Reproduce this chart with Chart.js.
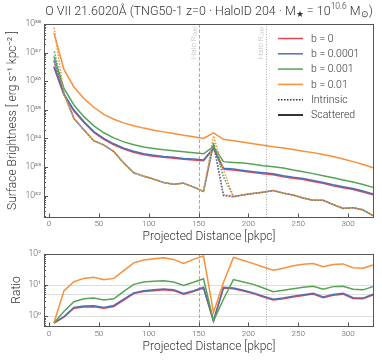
<!DOCTYPE html>
<html>
<head>
<meta charset="utf-8">
<script src="https://cdn.jsdelivr.net/npm/chart.js@4.4.1/dist/chart.umd.min.js"></script>
<style>
  html, body { margin: 0; padding: 0; background: #fff; }
  .panel { position: absolute; left: 0; width: 382px; }
</style>
</head>
<body>
<div class="panel" style="top:0;height:245px"><canvas id="sbChart"></canvas></div>
<div class="panel" style="top:245px;height:115px"><canvas id="ratioChart"></canvas></div>
<script>
const RADII = [5, 15, 25, 35, 45, 55, 65, 75, 85, 95, 105, 115, 125, 135, 145, 155,
    165, 175, 185, 195, 205, 215, 225, 235, 245, 255, 265, 275, 285, 295, 305, 315, 325];

const B_LABELS = ['b = 0', 'b = 0.0001', 'b = 0.001', 'b = 0.01'];
const B_COLORS = ['#e5464e', '#4a72b4', '#55a454', '#f7903a'];

// scattered surface brightness [erg s^-1 kpc^-2]
const SCAT_B0 = [3.1e36, 3.35e35, 9.1e34, 3.6e34, 1.62e34, 9.3e33, 6.0e33, 4.3e33, 3.3e33, 2.7e33, 2.4e33,
    2.2e33, 2.05e33, 1.86e33, 1.77e33, 1.66e33, 4.4e33, 8.4e32, 7.9e32, 7.1e32, 6.4e32, 5.8e32, 5.4e32,
    4.6e32, 4.1e32, 3.7e32, 3.15e32, 2.7e32, 2.2e32, 1.9e32, 1.65e32, 1.35e32, 1.07e32];
const SCAT_B1 = [3.3e36, 3.6e35, 9.8e34, 3.9e34, 1.74e34, 1.0e34, 6.5e33, 4.6e33, 3.55e33, 2.9e33, 2.6e33,
    2.35e33, 2.2e33, 2.0e33, 1.9e33, 1.78e33, 4.6e33, 9.1e32, 8.5e32, 7.6e32, 6.9e32, 6.3e32, 5.8e32,
    5.0e32, 4.4e32, 4.0e32, 3.4e32, 2.9e32, 2.4e32, 2.05e32, 1.78e32, 1.45e32, 1.15e32];
const SCAT_B2 = [7.4e36, 5.6e35, 1.48e35, 5.8e34, 2.75e34, 1.58e34, 1.05e34, 7.6e33, 6.0e33, 5.0e33, 4.5e33,
    4.0e33, 3.7e33, 3.4e33, 3.16e33, 2.9e33, 5.2e33, 1.55e33, 1.45e33, 1.38e33, 1.26e33, 1.12e33, 1.02e33,
    9.3e32, 7.9e32, 6.9e32, 5.9e32, 5.0e32, 4.2e32, 3.55e32, 3.0e32, 2.45e32, 1.95e32];
const SCAT_B3 = [4.8e37, 2.6e36, 6.3e35, 2.5e35, 1.23e35, 6.9e34, 4.7e34, 3.5e34, 2.8e34, 2.3e34, 1.95e34,
    1.7e34, 1.48e34, 1.29e34, 1.15e34, 1.0e34, 1.58e34, 9.3e33, 8.3e33, 7.4e33, 6.5e33, 5.8e33, 5.1e33,
    4.6e33, 4.1e33, 3.6e33, 3.2e33, 2.75e33, 2.35e33, 1.9e33, 1.55e33, 1.23e33, 9.5e32];

// intrinsic surface brightness
const INTR_B0 = [5.0e36, 3.8e35, 5.0e34, 2.0e34, 8.3e33, 5.9e33, 3.5e33, 1.38e33, 6.3e32, 4.8e32, 3.8e32,
    2.9e32, 2.5e32, 2.75e32, 2.0e32, 1.41e32, 6.2e33, 1.0e32, 9.3e31, 1.07e32, 1.2e32, 1.32e32, 1.51e32,
    1.23e32, 1.05e32, 8.3e31, 6.9e31, 6.9e31, 4.9e31, 3.6e31, 3.8e31, 3.2e31, 2.0e31];
const INTR_B1 = [5.5e36, 3.8e35, 5.0e34, 2.0e34, 8.3e33, 5.9e33, 3.5e33, 1.38e33, 6.3e32, 4.8e32, 3.8e32,
    2.9e32, 2.5e32, 2.75e32, 2.0e32, 1.41e32, 6.5e33, 1.07e32, 9.3e31, 1.07e32, 1.2e32, 1.32e32, 1.51e32,
    1.23e32, 1.05e32, 8.3e31, 6.9e31, 6.9e31, 4.9e31, 3.6e31, 3.8e31, 3.2e31, 2.0e31];
const INTR_B2 = [1.23e37, 3.8e35, 5.0e34, 2.0e34, 8.3e33, 5.9e33, 3.5e33, 1.38e33, 6.3e32, 4.8e32, 3.8e32,
    2.9e32, 2.5e32, 2.75e32, 2.0e32, 1.41e32, 7.4e33, 4.5e32, 9.3e31, 1.07e32, 1.2e32, 1.32e32, 1.51e32,
    1.23e32, 1.05e32, 8.3e31, 6.9e31, 6.9e31, 4.9e31, 3.6e31, 3.8e31, 3.2e31, 2.0e31];
const INTR_B3 = [7.9e37, 3.8e35, 5.0e34, 2.0e34, 8.3e33, 5.9e33, 3.5e33, 1.38e33, 6.3e32, 4.8e32, 3.8e32,
    2.9e32, 2.5e32, 2.75e32, 2.0e32, 1.41e32, 1.23e34, 7.9e32, 9.3e31, 1.07e32, 1.2e32, 1.32e32, 1.51e32,
    1.23e32, 1.05e32, 8.3e31, 6.9e31, 6.9e31, 4.9e31, 3.6e31, 3.8e31, 3.2e31, 2.0e31];

// scattered / intrinsic
const RATIO_B0 = [0.60, 0.92, 1.8, 1.97, 2.0, 1.8, 2.05, 3.3, 5.3, 6.2, 6.6, 7.0, 6.6, 5.1, 6.2, 8.0,
    0.68, 8.0, 7.6, 6.4, 5.3, 4.1, 3.3, 3.6, 4.1, 4.6, 5.1, 3.9, 4.7, 5.1, 3.7, 3.6, 4.8];
const RATIO_B1 = [0.61, 0.97, 1.9, 2.1, 2.15, 1.9, 2.2, 3.5, 5.6, 6.6, 7.0, 7.4, 7.0, 5.4, 6.6, 8.5,
    0.71, 8.5, 8.0, 6.8, 5.6, 4.4, 3.5, 3.8, 4.4, 4.9, 5.4, 4.1, 5.0, 5.4, 3.9, 3.8, 5.1];
const RATIO_B2 = [0.61, 1.4, 2.9, 3.6, 3.8, 3.3, 3.6, 6.3, 10.5, 12.5, 13.2, 13.8, 12.5, 9.7, 12.3, 15.9,
    0.70, 3.5, 15, 12.5, 10.5, 8.0, 6.1, 6.8, 7.6, 8.5, 9.2, 7.3, 8.9, 9.2, 7.3, 7.0, 8.9];
const RATIO_B3 = [0.61, 6.5, 12.8, 16.4, 17.8, 14.8, 16.4, 29, 52, 64, 70, 76, 67, 50, 67, 86,
    1.3, 12, 78, 62, 49, 38, 30, 35, 42, 47, 49, 39, 46, 48, 36, 35, 44];

const X_TICKS = [0, 50, 100, 150, 200, 250, 300];
const SB_TICKS = [1e32, 1e33, 1e34, 1e35, 1e36, 1e37, 1e38];
const SB_TICK_LABELS = ['10³²', '10³³', '10³⁴', '10³⁵', '10³⁶', '10³⁷', '10³⁸'];
const RATIO_TICKS = [1, 10, 100];
const RATIO_TICK_LABELS = ['10⁰', '10¹', '10²'];
const RATIO_GRID = [1, 5, 10];
const R500 = 150;
const R200 = 218;

const SCAT = [SCAT_B0, SCAT_B1, SCAT_B2, SCAT_B3];
const INTR = [INTR_B0, INTR_B1, INTR_B2, INTR_B3];
const RATIO = [RATIO_B0, RATIO_B1, RATIO_B2, RATIO_B3];

const FONT = 'Roboto, "Open Sans", sans-serif';
const INK = '#333333';
const AXIS = '#555555';

function pts(ys) {
    return RADII.map((x, i) => ({ x, y: ys[i] }));
}

function labelFor(value, ticks, labels) {
    const i = ticks.findIndex((t) => Math.abs(t - value) / t < 1e-6);
    return i >= 0 ? labels[i] : '';
}

function strokeLine(ctx, x1, y1, x2, y2) {
    ctx.beginPath();
    ctx.moveTo(x1, y1);
    ctx.lineTo(x2, y2);
    ctx.stroke();
}

// draws runs of text with sub/superscripts, left to right
function richText(ctx, parts, x, y, size) {
    parts.forEach((p) => {
        const s = p.k === 'n' ? size : size * 0.68;
        const dy = p.k === 'sup' ? -size * 0.38 : p.k === 'sub' ? size * 0.22 : 0;
        ctx.font = `300 ${s}px ${FONT}`;
        ctx.fillText(p.t, x, y + dy);
        x += ctx.measureText(p.t).width;
    });
    return x;
}

function richWidth(ctx, parts, size) {
    let w = 0;
    parts.forEach((p) => {
        const s = p.k === 'n' ? size : size * 0.68;
        ctx.font = `300 ${s}px ${FONT}`;
        w += ctx.measureText(p.t).width;
    });
    return w;
}

const framePlugin = {
    id: 'frame',
    beforeDatasetsDraw(chart, args, opts) {
        const { ctx, chartArea: a, scales: { x, y } } = chart;
        ctx.save();
        ctx.lineWidth = 1;
        ctx.strokeStyle = '#dedede';
        (opts.grid || []).forEach((v) => {
            const py = Math.round(y.getPixelForValue(v)) + 0.5;
            strokeLine(ctx, a.left, py, a.right, py);
        });
        ctx.strokeStyle = '#a8a8a8';
        ctx.setLineDash([3.5, 2]);
        const p500 = Math.round(x.getPixelForValue(R500)) + 0.5;
        strokeLine(ctx, p500, a.top, p500, a.bottom);
        ctx.setLineDash([1, 1.5]);
        const p200 = Math.round(x.getPixelForValue(R200)) + 0.5;
        strokeLine(ctx, p200, a.top, p200, a.bottom);
        ctx.setLineDash([]);

        if (opts.haloLabels) {
            ctx.fillStyle = '#bdbdbd';
            ctx.textBaseline = 'middle';
            [[p500, '500'], [p200, '200']].forEach(([px, sub]) => {
                const parts = [{ t: 'Halo R', k: 'n' }, { t: sub, k: 'sub' }];
                ctx.save();
                ctx.translate(px - 6, a.top + 3);
                ctx.rotate(-Math.PI / 2);
                const w = richWidth(ctx, parts, 8);
                richText(ctx, parts, -w, 0, 8);
                ctx.restore();
            });
        }
        ctx.restore();
    },
    afterDraw(chart, args, opts) {
        const { ctx, chartArea: a, scales: { x, y } } = chart;
        ctx.save();
        ctx.strokeStyle = AXIS;
        ctx.lineWidth = 1;
        ctx.strokeRect(Math.round(a.left) + 0.5, Math.round(a.top) + 0.5,
            Math.round(a.right - a.left) - 1, Math.round(a.bottom - a.top));

        // inward ticks
        X_TICKS.forEach((v) => {
            const px = Math.round(x.getPixelForValue(v)) + 0.5;
            strokeLine(ctx, px, a.bottom, px, a.bottom - 3.5);
        });
        const lo = Math.floor(Math.log10(y.min));
        const hi = Math.ceil(Math.log10(y.max));
        for (let d = lo; d <= hi; d++) {
            for (let m = 1; m <= 9; m++) {
                const v = m * Math.pow(10, d);
                if (v < y.min || v > y.max) continue;
                const py = Math.round(y.getPixelForValue(v)) + 0.5;
                strokeLine(ctx, a.left, py, a.left + (m === 1 ? 4 : 2), py);
            }
        }

        if (opts.legend) {
            const rows = B_LABELS.map((t, i) => ({ t, c: B_COLORS[i], dash: [] }));
            rows.push({ t: 'Intrinsic', c: INK, dash: [1.5, 1.5] });
            rows.push({ t: 'Scattered', c: INK, dash: [] });
            const x0 = a.right - 96;
            ctx.font = `300 10.5px ${FONT}`;
            ctx.textBaseline = 'middle';
            ctx.fillStyle = INK;
            rows.forEach((r, i) => {
                const ry = a.top + 14.5 + i * 15.3;
                ctx.strokeStyle = r.c;
                ctx.lineWidth = r.t === 'Scattered' ? 2 : 1.5;
                ctx.setLineDash(r.dash);
                strokeLine(ctx, x0, ry, x0 + 25, ry);
                ctx.setLineDash([]);
                ctx.fillText(r.t, x0 + 33, ry + 0.5);
            });
        }

        if (opts.title) {
            const parts = [
                { t: 'O VII 21.6020Å (TNG50-1 z=0 · HaloID 204 · M', k: 'n' },
                { t: '★', k: 'sub' },
                { t: ' = 10', k: 'n' },
                { t: '10.6', k: 'sup' },
                { t: ' M', k: 'n' },
                { t: '⊙', k: 'sub' },
                { t: ')', k: 'n' },
            ];
            ctx.fillStyle = INK;
            ctx.textBaseline = 'middle';
            const w = richWidth(ctx, parts, 12.5);
            richText(ctx, parts, (a.left + a.right) / 2 - w / 2, 12, 12.5);
        }
        ctx.restore();
    },
};

function xScale(titlePadBottom, tickPad) {
    return {
        type: 'linear',
        min: -5,
        max: 326,
        grid: { display: false, drawTicks: false },
        border: { display: false },
        afterBuildTicks: (s) => { s.ticks = X_TICKS.map((value) => ({ value })); },
        ticks: {
            autoSkip: false, maxRotation: 0, padding: tickPad, color: AXIS,
            font: { family: FONT, size: 8, weight: '300' },
            callback: (v) => String(v),
        },
        title: {
            display: true, text: 'Projected Distance [pkpc]', color: INK,
            font: { family: FONT, size: 12, weight: '300' },
            padding: { top: 0, bottom: titlePadBottom },
        },
    };
}

function yScale(min, max, ticks, labels, title, titlePadTop) {
    return {
        type: 'logarithmic',
        min,
        max,
        grid: { display: false, drawTicks: false },
        border: { display: false },
        afterFit: (s) => { s.width = 44; },
        afterBuildTicks: (s) => { s.ticks = ticks.map((value) => ({ value })); },
        ticks: {
            autoSkip: false, padding: 3, color: AXIS,
            font: { family: FONT, size: 8.5, weight: '300' },
            callback: (v) => labelFor(v, ticks, labels),
        },
        title: {
            display: true, text: title, color: INK,
            font: { family: FONT, size: 12, weight: '300' },
            padding: { top: titlePadTop, bottom: 0 },
        },
    };
}

const sbDatasets = [];
B_LABELS.forEach((label, i) => {
    sbDatasets.push({
        label: label + ' scattered', data: pts(SCAT[i]), borderColor: B_COLORS[i],
        borderWidth: 1.5, order: 10 - 2 * i,
    });
    sbDatasets.push({
        label: label + ' intrinsic', data: pts(INTR[i]), borderColor: B_COLORS[i],
        borderWidth: 1.5, borderDash: [1.5, 1.5], borderDashOffset: i * 0.75, order: 9 - 2 * i,
    });
});

const ratioDatasets = B_LABELS.map((label, i) => ({
    label, data: pts(RATIO[i]), borderColor: B_COLORS[i], borderWidth: 1.5, order: 10 - i,
}));

const common = {
    responsive: true,
    maintainAspectRatio: false,
    animation: false,
    devicePixelRatio: 1,
    parsing: false,
    elements: { point: { radius: 0 }, line: { tension: 0, fill: false } },
};

new Chart(document.getElementById('sbChart'), {
    type: 'line',
    data: { datasets: sbDatasets },
    plugins: [framePlugin],
    options: {
        ...common,
        layout: { padding: { top: 24, right: 8, left: 0, bottom: 0 } },
        plugins: {
            legend: { display: false },
            tooltip: { enabled: false },
            frame: { legend: true, title: true, haloLabels: true },
        },
        scales: {
            x: { ...xScale(1.3, 2), afterFit: (s) => { s.height = 28; } },
            y: yScale(1.8e31, 1e38, SB_TICKS, SB_TICK_LABELS,
                'Surface Brightness [ erg s⁻¹ kpc⁻² ]', 5.3),
        },
    },
});

new Chart(document.getElementById('ratioChart'), {
    type: 'line',
    data: { datasets: ratioDatasets },
    plugins: [framePlugin],
    options: {
        ...common,
        layout: { padding: { top: 9, right: 8, left: 0, bottom: 0 } },
        plugins: {
            legend: { display: false },
            tooltip: { enabled: false },
            frame: { grid: RATIO_GRID },
        },
        scales: {
            x: { ...xScale(5.8, 3), afterFit: (s) => { s.height = 34; } },
            y: yScale(0.48, 100, RATIO_TICKS, RATIO_TICK_LABELS, 'Ratio', 10),
        },
    },
});
</script>
</body>
</html>
